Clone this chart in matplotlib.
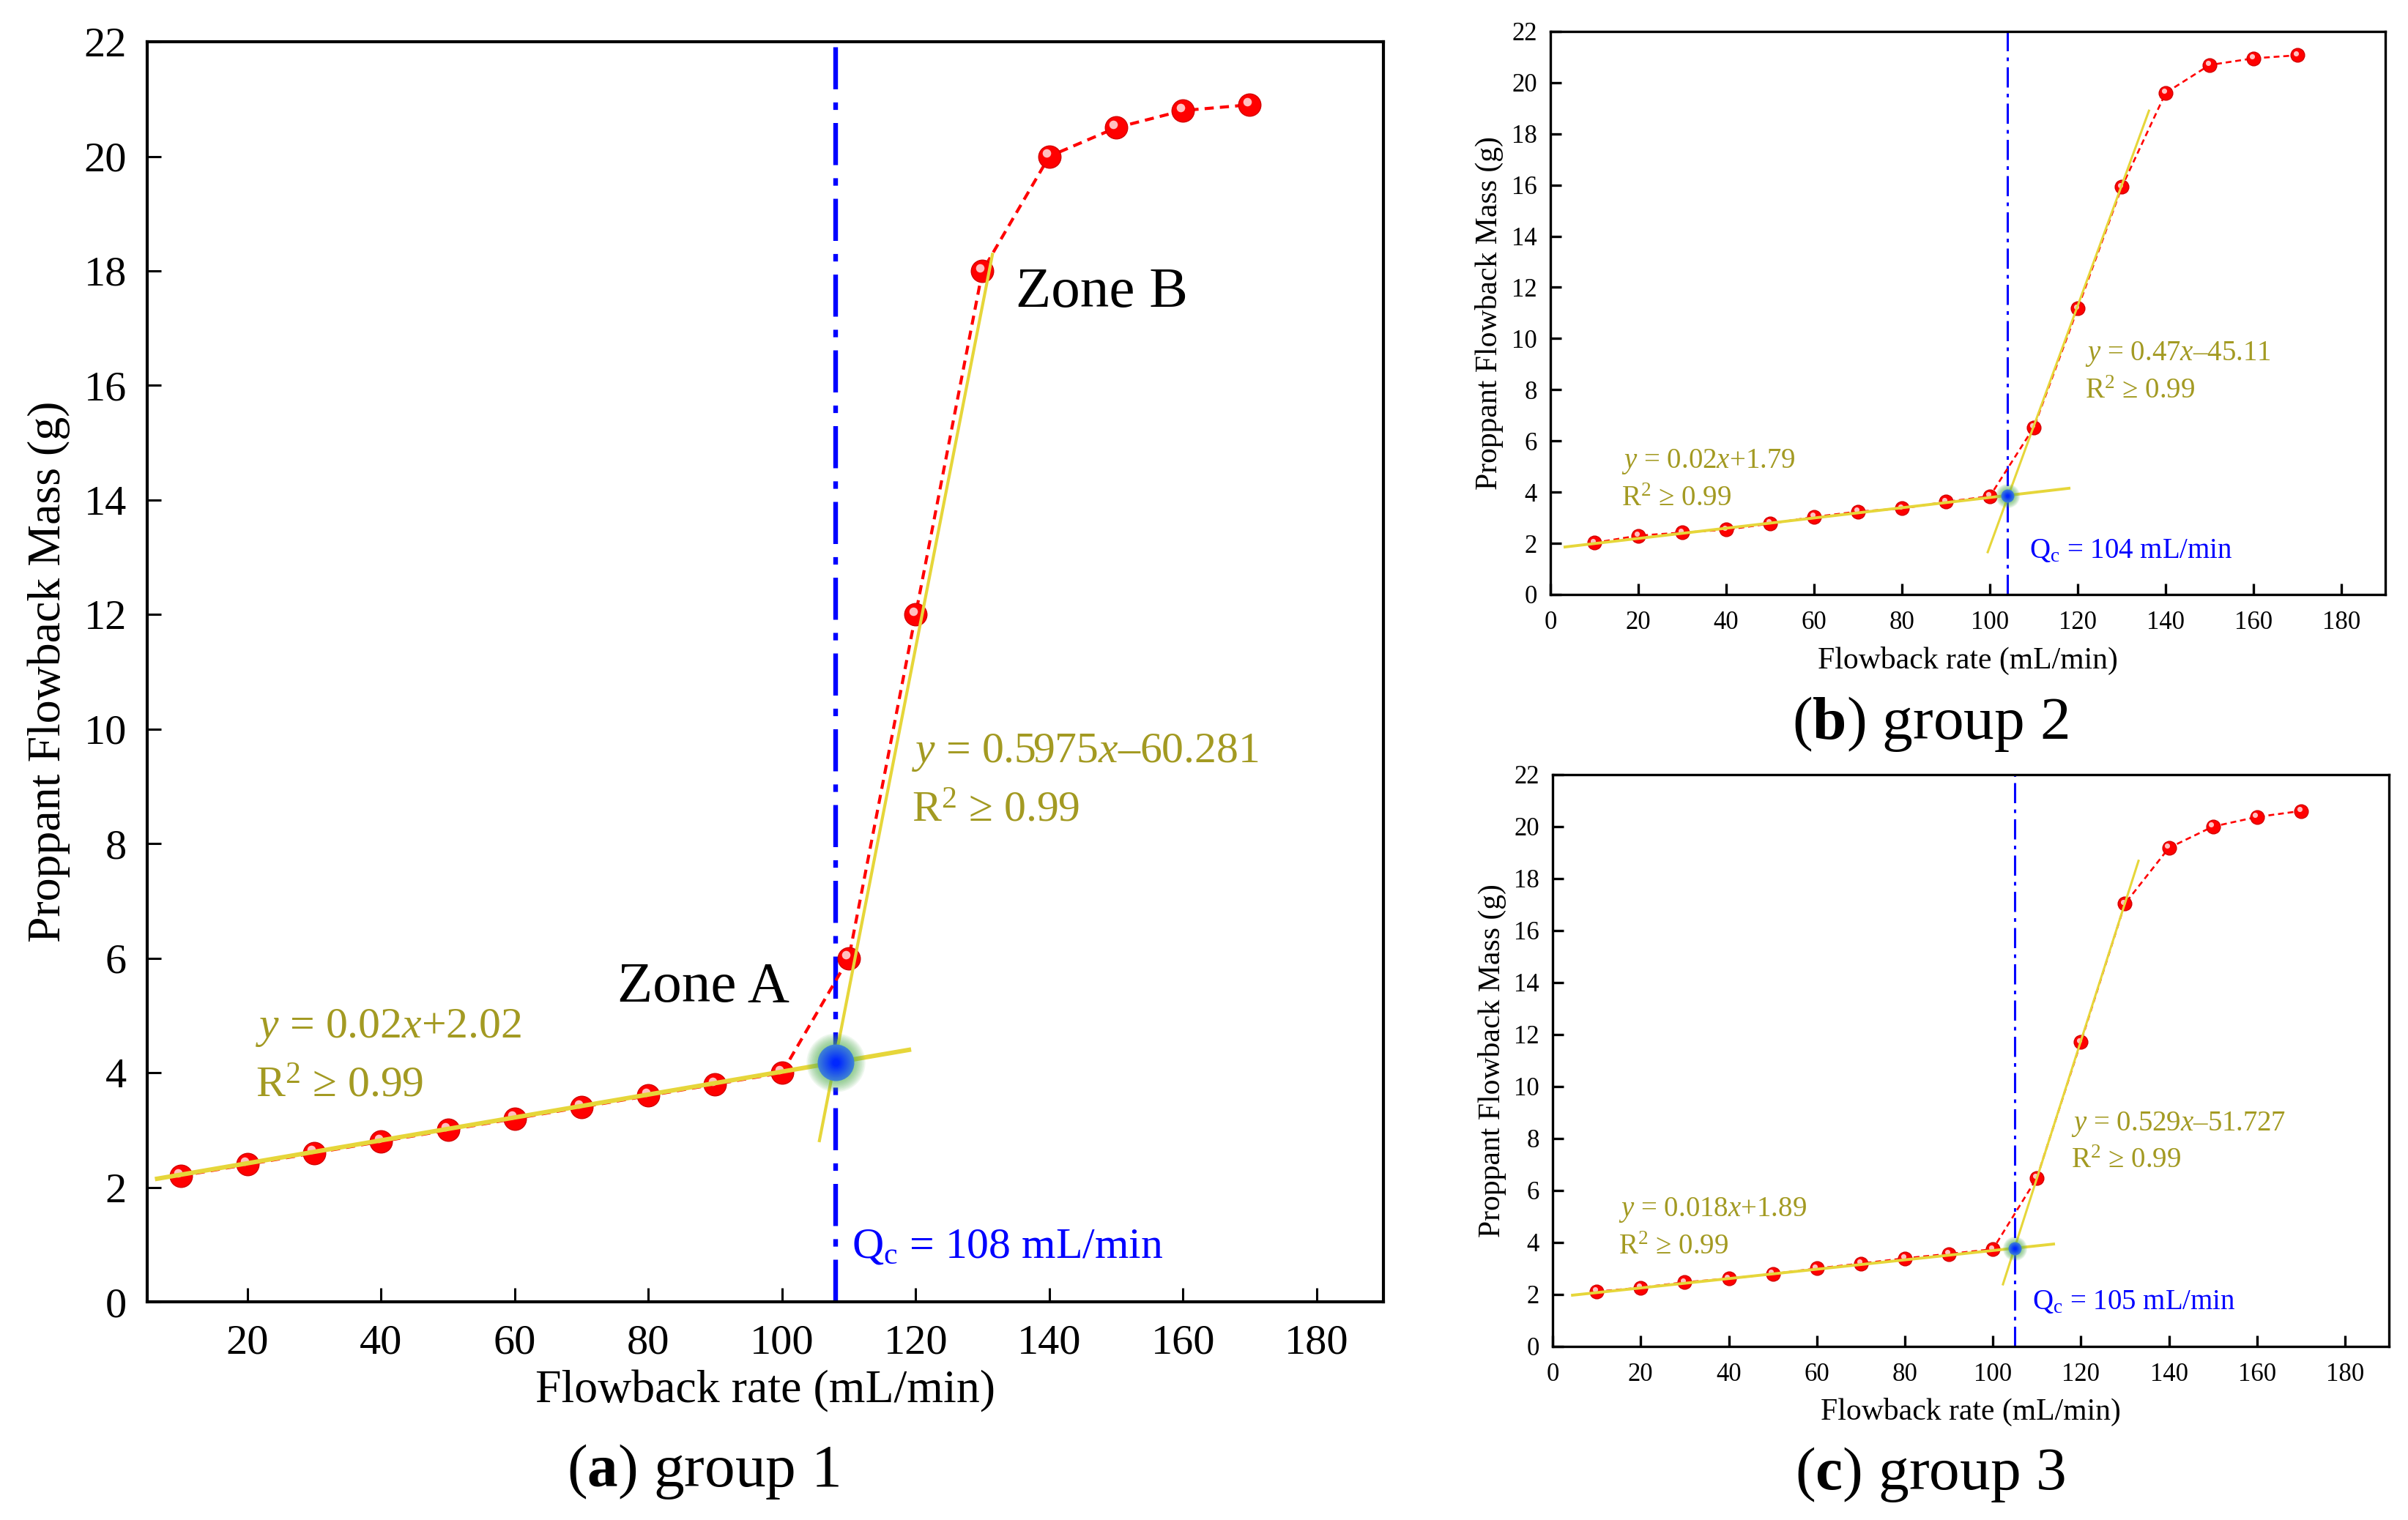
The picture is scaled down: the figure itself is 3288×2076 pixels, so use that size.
import numpy as np
import matplotlib
matplotlib.use('Agg')
import matplotlib.pyplot as plt
from matplotlib import transforms
from matplotlib.colors import to_rgb

plt.rcParams['font.family'] = ['Liberation Serif', 'DejaVu Serif']
plt.rcParams['mathtext.fontset'] = 'custom'
plt.rcParams['mathtext.rm'] = 'Liberation Serif'
plt.rcParams['mathtext.it'] = 'Liberation Serif:italic'
plt.rcParams['mathtext.bf'] = 'Liberation Serif:bold'

# flowback rate (mL/min) and proppant flowback mass (g) for the three groups
flow = [10, 20, 30, 40, 50, 60, 70, 80, 90, 100, 110, 120, 130, 140, 150, 160, 170]
mass_g1 = [2.2, 2.4, 2.6, 2.8, 3.0, 3.2, 3.4, 3.6, 3.8, 4.0, 6.0, 12.0, 18.0, 20.0, 20.5, 20.8, 20.9]
mass_g2 = [2.02, 2.3, 2.42, 2.53, 2.77, 3.03, 3.24, 3.36, 3.62, 3.84, 6.53, 11.18, 15.92, 19.6, 20.69, 20.95, 21.07]
mass_g3 = [2.11, 2.26, 2.47, 2.61, 2.79, 3.0, 3.19, 3.39, 3.56, 3.74, 6.48, 11.71, 17.03, 19.18, 20.0, 20.37, 20.6]

# linear fits (slope, intercept) for zone A and zone B, and the critical rate
fit_low = [(0.02, 2.02), (0.02, 1.79), (0.018, 1.89)]
fit_high = [(0.5975, -60.281), (0.47, -45.11), (0.529, -51.727)]
qc = [108, 104, 105]

eq_low = [r'$y$ = 0.02$x$+2.02', r'$y$ = 0.02$x$+1.79', r'$y$ = 0.018$x$+1.89']
eq_high = [r'$y$ = 0.5975$x$–60.281', r'$y$ = 0.47$x$–45.11', r'$y$ = 0.529$x$–51.727']
r2_text = r'R$^2$ ≥ 0.99'
captions = [r'($\mathbf{a}$) group 1', r'($\mathbf{b}$) group 2', r'($\mathbf{c}$) group 3']

OLIVE = '#a39a22'
YELLOW = '#e6d63a'
RED = '#ff0000'
BLUE = '#0000ff'

fig = plt.figure(figsize=(32.88, 20.76), dpi=100)
ax_a = fig.add_axes([0.0611, 0.1435, 0.5134, 0.8290])
ax_b = fig.add_axes([0.6439, 0.6089, 0.3467, 0.3704])
ax_c = fig.add_axes([0.6448, 0.1142, 0.3473, 0.3762])

big = dict(tick=42, label=46, eq=43, ms=22, lw_dash=3.0, lw_fit=(4.4, 3.0), lw_v=4.6,
           spine=3.0, tlen=14, twid=2.2, xpad=22, ypad=20, glow=(58, 36))
small = dict(tick=25, label=30, eq=28, ms=13.5, lw_dash=1.9, lw_fit=(2.8, 2.2), lw_v=2.2,
             spine=2.4, tlen=11, twid=2.4, xpad=16, ypad=13, glow=(24, 13))

panels = [
    dict(ax=ax_a, mass=mass_g1, st=big, xlim=(5, 190), xticks=range(20, 181, 20),
         low_span=(6.5, 119), high_span=(105.6, 131.5),
         eq_low_pos=(21.2, 4.62, 3.58), eq_high_pos=(119.4, 9.42, 8.39), qc_pos=(110.4, 0.78),
         ylab=(-0.062, 0.5), xlab=(0.5, -0.054)),
    dict(ax=ax_b, mass=mass_g2, st=small, xlim=(0, 190), xticks=range(0, 181, 20),
         low_span=(3.3, 118), high_span=(99.5, 136.2),
         eq_low_pos=(16.1, 4.96, 3.46), eq_high_pos=(121.6, 9.16, 7.67), qc_pos=(109.0, 1.43),
         ylab=(-0.056, 0.5), xlab=(0.5, -0.092)),
    dict(ax=ax_c, mass=mass_g3, st=small, xlim=(0, 190), xticks=range(0, 181, 20),
         low_span=(4.5, 113.8), high_span=(102.3, 133.1),
         eq_low_pos=(15.0, 5.0, 3.55), eq_high_pos=(117.8, 8.32, 6.86), qc_pos=(109.0, 1.44),
         ylab=(-0.055, 0.5), xlab=(0.5, -0.09)),
]

for i, p in enumerate(panels):
    ax = p['ax']
    st = p['st']
    x = np.array(flow)
    y = np.array(p['mass'])

    # blue critical-rate line
    ax.axvline(qc[i], color=BLUE, lw=st['lw_v'], ls=(0, (9, 2.8, 1.6, 2.8)), zorder=1)

    # measured data, dashed + sphere-like markers
    ax.plot(x, y, color=RED, lw=st['lw_dash'], ls=(0, (3, 2)), zorder=2)
    ax.plot(x, y, ls='none', marker='o', ms=st['ms'], mfc=RED, mec='#d40000', mew=1, zorder=3)
    hl = transforms.offset_copy(ax.transData, fig=fig, x=-st['ms'] * 0.12,
                                y=st['ms'] * 0.14, units='points')
    ax.plot(x, y, ls='none', marker='o', ms=st['ms'] * 0.38, mfc='#ffd6d6', mec='none',
            alpha=0.9, transform=hl, zorder=4)

    # fitted lines
    m1, c1 = fit_low[i]
    m2, c2 = fit_high[i]
    xl = np.array(p['low_span'])
    xh = np.array(p['high_span'])
    ax.plot(xl, m1 * xl + c1, color=YELLOW, lw=st['lw_fit'][0], zorder=5)
    ax.plot(xh, m2 * xh + c2, color=YELLOW, lw=st['lw_fit'][1], zorder=5)

    # glowing intersection point
    yq = m1 * qc[i] + c1
    gd, bd = st['glow']
    for k in range(10):
        d = gd - (gd - bd) * k / 10
        ax.scatter([qc[i]], [yq], s=d ** 2, color='#5db55d', alpha=0.09, lw=0, zorder=6)
    c_out = np.array(to_rgb('#3d7fd6'))
    c_in = np.array(to_rgb('#0028ff'))
    for k in range(12):
        f = k / 11
        d = bd * (1 - 0.8 * f)
        ax.scatter([qc[i]], [yq], s=d ** 2, color=c_out * (1 - f) + c_in * f, lw=0, zorder=7)

    # annotations
    ex, ey1, ey2 = p['eq_low_pos']
    ax.text(ex, ey1, eq_low[i], color=OLIVE, fontsize=st['eq'], va='baseline')
    ax.text(ex, ey2, r2_text, color=OLIVE, fontsize=st['eq'], va='baseline')
    ex, ey1, ey2 = p['eq_high_pos']
    ax.text(ex, ey1, eq_high[i], color=OLIVE, fontsize=st['eq'], va='baseline')
    ax.text(ex, ey2, r2_text, color=OLIVE, fontsize=st['eq'], va='baseline')
    ax.text(p['qc_pos'][0], p['qc_pos'][1], r'Q$_\mathrm{c}$ = %d mL/min' % qc[i],
            color=BLUE, fontsize=st['eq'], va='baseline')

    ax.set_xlim(*p['xlim'])
    ax.set_ylim(0, 22)
    ax.set_xticks(list(p['xticks']))
    ax.set_yticks(range(0, 23, 2))
    ax.tick_params(direction='in', length=st['tlen'], width=st['twid'], labelsize=st['tick'],
                   top=False, right=False)
    ax.tick_params(axis='x', pad=st['xpad'])
    ax.tick_params(axis='y', pad=st['ypad'])
    for s in ax.spines.values():
        s.set_linewidth(st['spine'])
    ax.set_xlabel('Flowback rate (mL/min)', fontsize=st['label'])
    ax.set_ylabel('Proppant Flowback Mass (g)', fontsize=st['label'])
    ax.xaxis.set_label_coords(*p['xlab'])
    ax.yaxis.set_label_coords(*p['ylab'])

ax_a.text(75.4, 5.24, 'Zone A', fontsize=57, va='baseline')
ax_a.text(135.0, 17.38, 'Zone B', fontsize=57, va='baseline')

fig.text(0.292, 0.0222, captions[0], fontsize=60, ha='center', va='baseline')
fig.text(0.8017, 0.514, captions[1], fontsize=60, ha='center', va='baseline')
fig.text(0.8017, 0.0202, captions[2], fontsize=60, ha='center', va='baseline')

fig.savefig('out.png', dpi=100)
